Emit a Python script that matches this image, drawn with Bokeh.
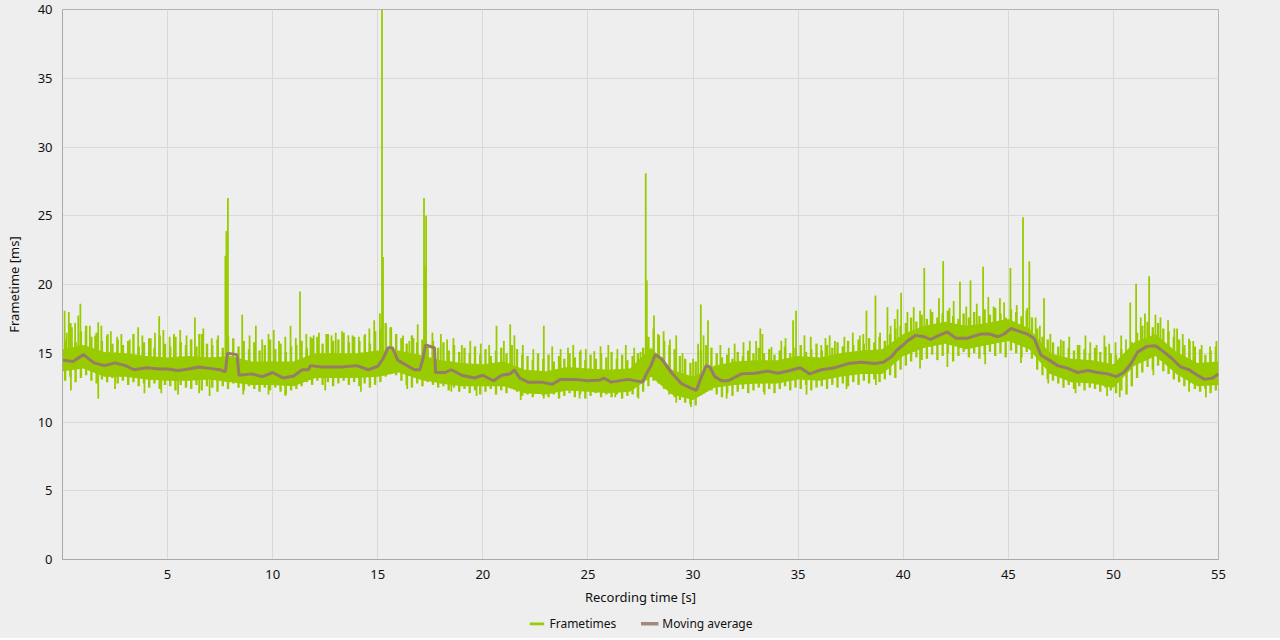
import numpy as np
from bokeh.plotting import figure
from bokeh.layouts import column
from bokeh.models import ColumnDataSource, Legend, LegendItem, FixedTicker, Range1d
from bokeh.embed import file_html
from bokeh.resources import INLINE

# ---- data ----
x_ticks = [5, 10, 15, 20, 25, 30, 35, 40, 45, 50, 55]
y_ticks = [0, 5, 10, 15, 20, 25, 30, 35, 40]

# solid core of the frametime band, every 1 s
core_t = list(range(56))
core_hi = [15.3, 15.6, 15.1, 15.0, 14.8, 14.7, 14.8, 14.7, 14.8, 14.4, 14.4, 14.4, 15.0, 15.0, 15.0, 15.2,
           15.2, 14.9, 14.5, 14.3, 14.2, 14.4, 13.8, 13.7, 14.0, 13.9, 13.8, 13.9, 15.4, 13.8, 13.3, 14.1,
           14.4, 14.5, 14.5, 14.8, 14.7, 15.0, 15.2, 15.3, 16.4, 17.0, 17.3, 17.0, 17.2, 17.5, 16.8, 15.0,
           14.6, 14.5, 14.2, 15.8, 16.4, 15.1, 14.3, 14.4]
core_lo = [13.7, 13.9, 13.3, 13.3, 13.1, 13.0, 13.0, 13.1, 12.9, 12.7, 12.7, 12.6, 13.2, 13.2, 13.2, 13.3,
           13.6, 13.1, 12.8, 12.6, 12.6, 12.6, 12.1, 12.0, 12.3, 12.2, 12.1, 12.2, 13.3, 12.0, 11.6, 12.5,
           12.7, 12.8, 12.8, 13.1, 13.0, 13.3, 13.5, 13.5, 14.8, 15.4, 15.7, 15.3, 15.6, 15.9, 15.3, 13.5,
           12.9, 12.8, 12.5, 14.1, 14.8, 13.5, 12.6, 12.7]

# per-quarter-second min / max of the frametimes (t = 0.125 + 0.25 k)
edge_t = [0.125 + 0.25 * k for k in range(220)]
edge_hi = [16.0, 17.2, 15.8, 16.6, 17.0, 16.2, 16.5, 15.9, 16.3, 15.7, 16.0, 15.6, 15.9, 16.4, 15.5, 15.8,
           16.1, 15.4, 16.3, 15.7, 15.5, 16.2, 15.8, 15.6, 16.0, 15.5, 16.4, 15.7, 15.6, 16.0, 15.4, 16.2,
           16.1, 15.5, 15.9, 15.3, 15.8, 15.2, 15.6, 16.0, 15.3, 15.7, 15.1, 15.5, 15.6, 15.9, 15.4, 16.1,
           16.2, 15.7, 16.4, 15.9, 16.0, 16.5, 15.8, 16.2, 15.9, 16.3, 15.7, 16.6, 16.8, 17.2, 16.9, 16.4,
           16.1, 15.7, 16.3, 15.8, 16.0, 15.6, 15.9, 15.4, 15.8, 15.2, 15.6, 15.1, 15.4, 15.0, 15.5, 14.9,
           15.3, 14.8, 15.2, 15.4, 15.0, 15.6, 15.3, 14.9, 14.8, 14.5, 15.0, 14.6, 14.9, 14.4, 14.8, 14.6,
           15.0, 14.7, 15.1, 14.5, 14.9, 14.6, 15.0, 14.7, 15.1, 14.6, 14.9, 14.5, 14.8, 15.0, 15.4, 16.2,
           16.8, 16.3, 15.9, 15.6, 15.3, 14.8, 14.6, 14.3, 14.4, 15.2, 15.6, 15.4, 15.0, 14.7, 14.9, 14.6,
           15.1, 14.8, 15.2, 15.0, 15.4, 15.0, 15.3, 14.9, 15.2, 15.5, 15.0, 15.4, 15.6, 15.1, 15.3, 15.7,
           15.2, 15.6, 15.4, 15.8, 15.5, 15.9, 15.6, 16.0, 15.7, 16.1, 15.8, 16.2, 15.9, 16.4, 16.8, 17.0,
           17.2, 17.6, 17.3, 17.8, 17.5, 18.0, 17.6, 17.9, 18.1, 17.7, 17.5, 17.9, 17.6, 18.0, 17.7, 18.2,
           17.8, 18.3, 17.9, 17.6, 18.2, 18.0, 17.7, 18.1, 17.6, 16.8, 16.2, 16.0, 15.8, 15.5, 15.9, 15.4,
           15.2, 15.6, 15.3, 15.0, 15.4, 15.1, 15.5, 15.0, 14.9, 15.3, 15.1, 15.8, 16.5, 17.0, 17.3, 16.9,
           17.2, 16.8, 16.6, 16.2, 16.0, 15.6, 15.9, 15.5, 15.3, 14.9, 15.2, 15.5]
edge_lo = [13.0, 13.3, 12.9, 13.2, 13.4, 13.0, 12.8, 13.1, 12.9, 13.2, 12.8, 13.0, 12.7, 12.9, 12.6, 12.8,
           12.5, 12.8, 12.4, 12.7, 12.6, 12.3, 12.7, 12.5, 12.4, 12.7, 12.3, 12.6, 12.5, 12.2, 12.6, 12.4,
           12.8, 12.5, 12.3, 12.6, 12.4, 12.2, 12.5, 12.3, 12.5, 12.2, 12.0, 12.3, 12.4, 12.6, 12.9, 12.7,
           13.0, 12.7, 12.9, 12.6, 12.8, 13.0, 12.7, 12.9, 12.6, 12.8, 12.5, 12.7, 12.9, 13.3, 13.6, 13.4,
           13.0, 12.7, 12.5, 12.8, 12.6, 12.9, 12.7, 12.5, 12.6, 12.3, 12.5, 12.2, 12.4, 12.1, 12.3, 12.0,
           12.2, 12.4, 12.0, 12.3, 12.1, 12.5, 12.2, 11.9, 12.0, 11.8, 12.1, 11.9, 11.8, 12.0, 11.7, 11.9,
           12.1, 11.8, 12.0, 11.7, 11.9, 12.1, 11.8, 12.0, 11.8, 12.0, 11.7, 11.9, 12.0, 11.8, 12.2, 12.6,
           13.0, 12.8, 12.4, 12.0, 11.8, 11.6, 11.4, 11.3, 11.2, 12.0, 12.6, 12.3, 12.0, 11.8, 12.1, 11.9,
           12.2, 12.4, 12.1, 12.3, 12.5, 12.2, 12.4, 12.1, 12.4, 12.6, 12.3, 12.5, 12.4, 12.7, 12.3, 12.5,
           12.6, 12.4, 12.7, 12.5, 12.8, 12.6, 12.9, 12.7, 13.0, 12.8, 13.1, 12.9, 13.1, 13.4, 13.2, 13.8,
           14.1, 14.4, 14.7, 14.5, 14.6, 14.9, 14.5, 14.8, 15.0, 14.4, 14.8, 15.1, 14.7, 15.0, 14.6, 14.9,
           15.1, 14.8, 15.0, 14.7, 15.2, 15.0, 14.7, 15.1, 14.6, 13.8, 13.4, 13.1, 13.0, 12.8, 12.5, 12.7,
           12.4, 12.6, 12.3, 12.5, 12.4, 12.2, 12.5, 12.3, 12.1, 12.3, 12.0, 12.6, 13.2, 13.6, 14.0, 13.8,
           14.1, 13.7, 13.5, 13.1, 12.9, 12.6, 12.8, 12.4, 12.2, 12.4, 12.1, 12.3]

# frametime peaks above the band
spike_t = [0.1, 0.2, 0.3, 0.45, 0.6, 0.75, 0.85, 1.1, 1.3, 1.55, 1.7, 1.85, 2.15, 2.3, 2.6, 2.8, 3.2, 3.6,
           3.8, 4.2, 4.4, 4.6, 4.8, 5.1, 5.3, 5.6, 5.9, 6.1, 6.3, 6.5, 6.7, 7.1, 7.4, 7.75, 7.8, 7.87, 8.55,
           8.9, 9.2, 9.5, 9.8, 10.05, 10.3, 10.6, 10.85, 11.1, 11.3, 11.6, 11.8, 11.95, 12.2, 12.55, 12.8,
           13.0, 13.3, 13.6, 13.8, 14.1, 14.4, 14.6, 14.83, 15.1, 15.2, 15.25, 15.4, 15.6, 16.2, 16.5, 16.7,
           16.9, 17.2, 17.25, 17.3, 17.6, 18.0, 18.3, 18.6, 19.0, 19.4, 19.9, 20.3, 20.65, 21.0, 21.3, 21.5,
           21.9, 22.4, 22.9, 23.3, 23.7, 24.05, 24.3, 24.65, 24.9, 25.3, 25.6, 25.97, 26.4, 26.8, 27.2, 27.5,
           27.75, 27.8, 28.14, 28.33, 28.6, 28.9, 29.2, 29.5, 30.0, 30.24, 30.37, 30.5, 30.71, 31.3, 31.7,
           31.98, 32.4, 32.7, 33.0, 33.2, 33.3, 33.73, 34.2, 34.4, 34.76, 34.9, 35.3, 35.6, 36.1, 36.3, 36.5,
           36.75, 37.2, 37.6, 37.94, 38.1, 38.25, 38.68, 38.9, 39.25, 39.4, 39.6, 39.73, 39.9, 40.2, 40.5,
           40.8, 41.0, 41.3, 41.7, 41.9, 42.2, 42.4, 42.7, 43.0, 43.2, 43.5, 43.8, 44.05, 44.3, 44.6, 44.8,
           45.1, 45.4, 45.7, 45.9, 46.0, 46.3, 46.5, 46.7, 47.0, 47.5, 47.9, 48.3, 48.67, 48.9, 49.2, 49.57,
           49.8, 50.1, 50.37, 50.6, 50.8, 51.08, 51.3, 51.5, 51.7, 52.0, 52.24, 52.6, 52.9, 53.03, 53.3,
           53.6, 53.8, 54.2, 54.6, 54.9]
spike_ms = [18.1, 16.5, 18.0, 16.9, 17.2, 17.75, 18.6, 16.6, 17.0, 16.3, 17.25, 17.0, 16.4, 16.6, 16.2, 16.4,
            16.0, 16.9, 16.3, 16.1, 16.5, 17.7, 16.7, 16.2, 16.4, 16.7, 16.3, 16.0, 17.6, 16.4, 16.8, 16.1,
            16.3, 22.1, 23.9, 26.3, 17.8, 16.3, 17.0, 16.0, 16.4, 16.7, 15.9, 16.2, 17.0, 16.1, 19.5, 16.4,
            16.2, 16.3, 16.5, 16.4, 16.3, 16.5, 16.6, 16.3, 16.3, 16.2, 16.4, 16.8, 17.4, 17.9, 40.0, 22.0,
            17.0, 16.8, 16.3, 15.9, 16.1, 17.1, 26.3, 21.4, 25.0, 16.5, 16.4, 16.0, 16.1, 15.6, 15.9, 15.7,
            15.6, 17.0, 15.9, 17.1, 16.3, 15.6, 15.3, 17.0, 15.5, 15.3, 15.4, 15.6, 15.25, 15.3, 15.15, 15.5,
            15.6, 15.3, 15.6, 15.4, 15.1, 28.1, 20.3, 17.75, 16.4, 16.6, 16.0, 16.3, 15.0, 14.6, 15.7, 18.55,
            16.3, 17.4, 15.6, 15.4, 15.7, 15.8, 15.9, 15.9, 16.8, 16.4, 15.45, 15.9, 16.1, 17.4, 18.1, 16.3,
            16.2, 15.6, 16.1, 16.3, 15.9, 16.2, 16.5, 16.3, 16.4, 18.1, 19.2, 16.5, 18.35, 17.0, 17.5, 18.2,
            19.4, 18.0, 18.35, 18.1, 21.2, 18.2, 19.0, 21.7, 18.3, 18.8, 20.2, 18.4, 20.3, 18.6, 21.3, 19.1,
            18.4, 19.0, 18.7, 21.2, 18.5, 24.9, 18.3, 21.7, 17.6, 17.0, 19.0, 16.4, 16.0, 16.2, 15.6, 16.3,
            15.8, 15.6, 16.3, 15.7, 15.8, 16.3, 16.0, 18.7, 20.05, 17.6, 17.9, 20.6, 17.8, 17.6, 17.4, 16.8,
            16.8, 16.4, 16.05, 15.9, 15.6, 15.5, 15.9]

# frametime dips below the band
dip_t = [0.4, 1.7, 2.5, 3.9, 4.7, 5.5, 6.5, 7.0, 8.6, 9.8, 10.6, 12.5, 14.2, 16.4, 18.5, 19.7, 21.8, 22.9,
         24.6, 26.3, 27.4, 29.2, 29.9, 31.6, 33.4, 35.4, 37.3, 38.7, 40.8, 42.1, 43.9, 45.6, 46.9, 48.2,
         49.7, 50.3, 51.9, 53.6, 54.4]
dip_ms = [12.3, 11.7, 12.4, 12.1, 12.1, 12.0, 12.1, 11.9, 12.0, 12.0, 11.9, 12.3, 12.2, 12.4, 12.2, 11.9,
          11.6, 11.7, 11.7, 11.8, 11.7, 11.4, 11.1, 11.7, 12.0, 12.0, 12.4, 12.7, 13.9, 14.0, 14.2, 14.3,
          12.8, 12.1, 11.9, 11.8, 13.4, 12.2, 11.8]

# moving average
avg_t = [0.0, 0.5, 1.0, 1.5, 2.0, 2.5, 3.0, 3.4, 4.0, 4.6, 5.0, 5.5, 6.0, 6.5, 7.0, 7.5, 7.75, 7.85, 8.3,
         8.4, 9.0, 9.5, 10.0, 10.5, 11.0, 11.4, 11.7, 11.8, 12.3, 13.3, 14.0, 14.55, 15.0, 15.25, 15.5,
         15.7, 15.95, 16.45, 16.75, 17.0, 17.15, 17.27, 17.7, 17.75, 18.2, 18.5, 19.0, 19.6, 20.0, 20.5,
         20.9, 21.3, 21.5, 21.75, 22.15, 22.8, 23.3, 23.7, 24.4, 25.0, 25.6, 25.75, 26.1, 26.9, 27.6,
         27.78, 28.0, 28.2, 28.5, 28.97, 29.44, 29.84, 30.16, 30.4, 30.63, 30.8, 31.03, 31.35, 31.67,
         32.3, 32.94, 33.57, 34.05, 34.6, 35.1, 35.55, 36.1, 36.75, 37.38, 38.0, 38.65, 39.05, 39.44,
         39.68, 40.0, 40.2, 40.6, 41.0, 41.3, 41.7, 42.1, 42.5, 43.06, 43.7, 44.1, 44.5, 44.8, 45.13,
         45.6, 45.9, 46.24, 46.56, 46.95, 47.35, 47.83, 48.3, 48.78, 49.25, 49.73, 50.13, 50.5, 50.84,
         51.16, 51.6, 52.0, 52.4, 52.8, 53.2, 53.6, 54.0, 54.33, 54.73, 55.0]
avg_ms = [14.5, 14.4, 14.9, 14.3, 14.1, 14.3, 14.1, 13.8, 13.95, 13.85, 13.85, 13.75, 13.85, 14.0, 13.9,
          13.8, 13.65, 15.0, 14.9, 13.4, 13.5, 13.3, 13.6, 13.2, 13.35, 13.8, 13.8, 14.1, 14.0, 14.0, 14.1,
          13.8, 14.05, 14.6, 15.4, 15.4, 14.5, 14.05, 13.8, 13.8, 14.6, 15.6, 15.4, 13.6, 13.6, 13.8, 13.4,
          13.2, 13.4, 13.0, 13.4, 13.5, 13.8, 13.2, 12.9, 12.9, 12.75, 13.1, 13.1, 13.0, 13.05, 13.2, 12.9,
          13.1, 12.9, 13.5, 14.1, 14.9, 14.6, 13.6, 12.8, 12.5, 12.3, 13.3, 14.1, 14.0, 13.3, 13.0, 13.0,
          13.5, 13.55, 13.7, 13.55, 13.75, 13.95, 13.5, 13.8, 13.95, 14.25, 14.35, 14.25, 14.35, 14.75,
          15.2, 15.6, 15.9, 16.3, 16.2, 16.0, 16.3, 16.55, 16.1, 16.1, 16.4, 16.4, 16.2, 16.4, 16.8, 16.55,
          16.4, 16.05, 14.85, 14.5, 14.1, 13.9, 13.6, 13.75, 13.6, 13.5, 13.3, 13.6, 14.25, 15.1, 15.5,
          15.55, 15.1, 14.6, 14.0, 13.8, 13.4, 13.1, 13.2, 13.5]

GREEN = "#99cc00"
BROWN = "#957d68"
BG = "#eeeeee"
FONT = "Noto Sans"

# ---------------- main chart ----------------
p = figure(width=1280, height=610, frame_width=1156, frame_height=550,
           output_backend="svg", toolbar_location=None,
           x_range=Range1d(0, 55), y_range=Range1d(0, 40),
           min_border_left=62, min_border_right=62, min_border_top=9, min_border_bottom=0)
p.background_fill_color = BG
p.border_fill_color = BG
p.outline_line_color = "#b4b4b4"
p.outline_line_width = 1

core_src = ColumnDataSource(dict(t=core_t, lo=core_lo, hi=core_hi))
p.varea(x="t", y1="lo", y2="hi", source=core_src, fill_color=GREEN)
p.segment(x0=edge_t, y0=edge_lo, x1=edge_t, y1=edge_hi, line_color=GREEN, line_width=2.4)

s_t = np.array(spike_t)
s_base = np.interp(s_t, core_t, core_lo)
p.segment(x0=s_t, y0=s_base, x1=s_t, y1=spike_ms, line_color=GREEN, line_width=1.8)
d_t = np.array(dip_t)
d_base = np.interp(d_t, core_t, core_hi)
p.segment(x0=d_t, y0=d_base, x1=d_t, y1=dip_ms, line_color=GREEN, line_width=1.8)

p.line(x=avg_t, y=avg_ms, line_color=BROWN, line_width=3)

for ax in (p.xaxis[0], p.yaxis[0]):
    ax.axis_line_color = "#a8a8a8"
    ax.major_tick_line_color = None
    ax.minor_tick_line_color = None
    ax.major_label_text_font = FONT
    ax.major_label_text_font_size = "13px"
    ax.major_label_text_color = "#111111"
    ax.axis_label_text_font = FONT
    ax.axis_label_text_font_size = "13px"
    ax.axis_label_text_font_style = "normal"
    ax.axis_label_text_color = "#111111"

p.xaxis[0].ticker = FixedTicker(ticks=x_ticks)
p.yaxis[0].ticker = FixedTicker(ticks=y_ticks)
p.xaxis[0].axis_label = "Recording time [s]"
p.yaxis[0].axis_label = "Frametime [ms]"
p.xaxis[0].major_label_standoff = 4
p.yaxis[0].major_label_standoff = 4
p.xaxis[0].axis_label_standoff = 6
p.yaxis[0].axis_label_standoff = 12

p.xgrid[0].ticker = FixedTicker(ticks=x_ticks)
p.ygrid[0].ticker = FixedTicker(ticks=y_ticks)
p.grid.grid_line_color = "#d9d9d9"
p.grid.grid_line_width = 1

# ---------------- legend strip ----------------
lg = figure(width=1280, height=30, output_backend="svg", toolbar_location=None,
            x_range=Range1d(0, 55), y_range=Range1d(100, 101),
            x_axis_type=None, y_axis_type=None,
            min_border=0, min_border_left=0, min_border_right=0, min_border_top=0, min_border_bottom=0)
lg.background_fill_color = BG
lg.border_fill_color = BG
lg.outline_line_color = None
lg.grid.visible = False
ft_r = lg.varea(x="t", y1="lo", y2="hi", source=core_src, fill_color=GREEN)
ma_r = lg.line(x=avg_t, y=avg_ms, line_color="#a08a80", line_width=4)
legend = Legend(items=[LegendItem(label="Frametimes", renderers=[ft_r]),
                       LegendItem(label="Moving average", renderers=[ma_r])],
                orientation="horizontal", location="center",
                background_fill_alpha=0, border_line_alpha=0,
                label_text_font=FONT, label_text_font_size="12px", label_text_color="#111111",
                glyph_width=18, glyph_height=4, spacing=24, padding=0, margin=0,
                label_standoff=4, label_height=12)
lg.add_layout(legend, "center")

layout = column(p, lg, spacing=0, styles={"background-color": BG})
open("out.html", "w").write(file_html(layout, INLINE))
